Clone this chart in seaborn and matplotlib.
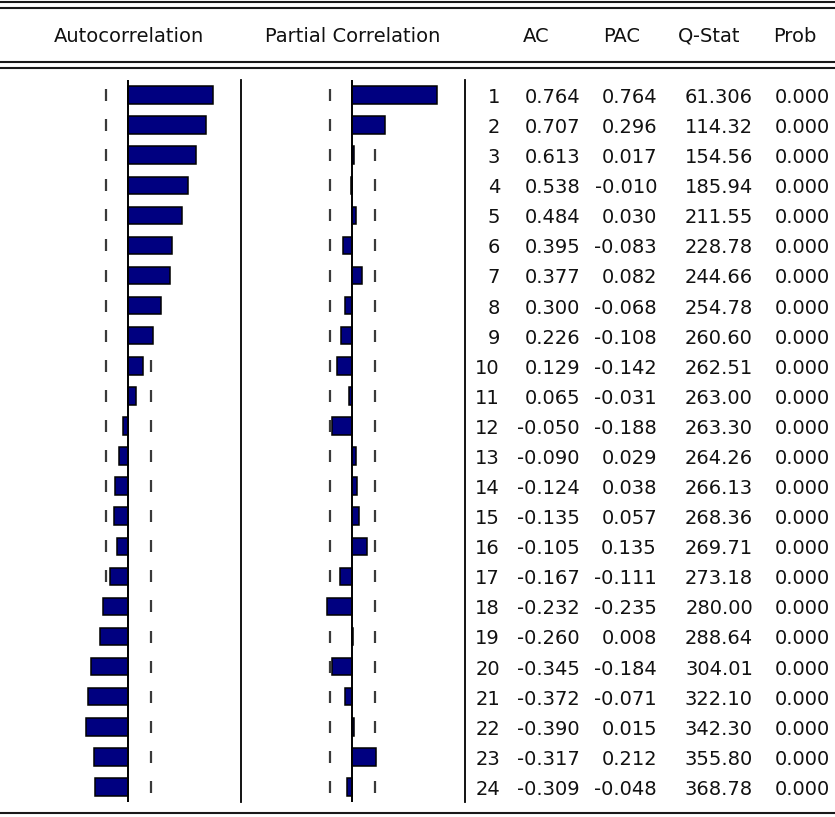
import numpy as np
import pandas as pd
import matplotlib
matplotlib.use("Agg")
import matplotlib.pyplot as plt
from matplotlib.lines import Line2D
import seaborn as sns

# ---------------- data ----------------
lags = list(range(1, 25))
ac = [0.764, 0.707, 0.613, 0.538, 0.484, 0.395, 0.377, 0.300, 0.226, 0.129,
      0.065, -0.050, -0.090, -0.124, -0.135, -0.105, -0.167, -0.232, -0.260,
      -0.345, -0.372, -0.390, -0.317, -0.309]
pac = [0.764, 0.296, 0.017, -0.010, 0.030, -0.083, 0.082, -0.068, -0.108,
       -0.142, -0.031, -0.188, 0.029, 0.038, 0.057, 0.135, -0.111, -0.235,
       0.008, -0.184, -0.071, 0.015, 0.212, -0.048]
qstat = [61.306, 114.32, 154.56, 185.94, 211.55, 228.78, 244.66, 254.78,
         260.60, 262.51, 263.00, 263.30, 264.26, 266.13, 268.36, 269.71,
         273.18, 280.00, 288.64, 304.01, 322.10, 342.30, 355.80, 368.78]
prob = [0.000] * 24
conf_band = 0.205
headers = ["Autocorrelation", "Partial Correlation", "AC", "PAC", "Q-Stat", "Prob"]

df = pd.DataFrame({"lag": [str(l) for l in lags], "ac": ac, "pac": pac})

# ---------------- figure ----------------
sns.set_style("white")
plt.rcParams["font.family"] = ["DejaVu Sans"]
W, H = 835, 817
fig = plt.figure(figsize=(W / 100, H / 100), dpi=100)
fig.patch.set_facecolor("white")

def px_axes(x0, x1, y0, y1):
    return fig.add_axes([x0 / W, 1 - y1 / H, (x1 - x0) / W, (y1 - y0) / H])

TOP, BOT = 80, 802
NAVY = "#000080"
FS = 14
TXT = "#111111"

def bar_panel(ax, col, xlim):
    sns.barplot(data=df, x=col, y="lag", orient="h", color=NAVY, saturation=1,
                width=0.58, edgecolor="black", linewidth=1.1, ax=ax, zorder=2)
    n = len(df)
    pos = np.arange(n)
    ax.vlines([-conf_band] * n, pos - 0.2, pos + 0.2, color="#3a3a3a", lw=1.6, zorder=1)
    ax.vlines([conf_band] * n, pos - 0.2, pos + 0.2, color="#3a3a3a", lw=1.6, zorder=1)
    ax.axvline(0, color="black", lw=1.4, zorder=3)
    ax.set_xlim(*xlim)
    ax.set_ylim(n - 0.5, -0.5)
    ax.set_xlabel("")
    ax.set_ylabel("")
    ax.set_xticks([])
    ax.set_yticks([])
    for s in ["top", "left", "bottom"]:
        ax.spines[s].set_visible(False)
    ax.spines["right"].set_color("black")
    ax.spines["right"].set_linewidth(1.3)
    ax.patch.set_alpha(0)

ax1 = px_axes(0, 241.5, TOP, BOT)
bar_panel(ax1, "ac", (-128.5 / 110, 113 / 110))
ax2 = px_axes(241.5, 465.5, TOP, BOT)
bar_panel(ax2, "pac", (-111 / 110, 113 / 110))

# ---------------- table ----------------
axt = px_axes(465.5, 835, TOP, BOT)
axt.set_xlim(465.5, 835)
axt.set_ylim(len(lags) - 0.5, -0.5)
axt.axis("off")

def fmt_q(q):
    return f"{q:.3f}" if q < 100 else f"{q:.2f}"

for i in range(len(lags)):
    yy = i + 0.08
    axt.text(500, yy, str(lags[i]), ha="right", va="center", fontsize=FS, color=TXT)
    axt.text(580, yy, f"{ac[i]:.3f}", ha="right", va="center", fontsize=FS, color=TXT)
    axt.text(657, yy, f"{pac[i]:.3f}", ha="right", va="center", fontsize=FS, color=TXT)
    axt.text(753, yy, fmt_q(qstat[i]), ha="right", va="center", fontsize=FS, color=TXT)
    axt.text(830, yy, f"{prob[i]:.3f}", ha="right", va="center", fontsize=FS, color=TXT)

# ---------------- headers & rules ----------------
hy = 1 - 36 / H
fig.text(128.5 / W, hy, headers[0], ha="center", va="center", fontsize=FS, color=TXT)
fig.text(352.5 / W, hy, headers[1], ha="center", va="center", fontsize=FS, color=TXT)
fig.text(523 / W, hy, headers[2], ha="left", va="center", fontsize=FS, color=TXT)
fig.text(603 / W, hy, headers[3], ha="left", va="center", fontsize=FS, color=TXT)
fig.text(678 / W, hy, headers[4], ha="left", va="center", fontsize=FS, color=TXT)
fig.text(773 / W, hy, headers[5], ha="left", va="center", fontsize=FS, color=TXT)

for ypx in [1.5, 7.5, 62, 68, 813]:
    fig.add_artist(Line2D([0, 1], [1 - ypx / H, 1 - ypx / H], color="#1a1a1a",
                          lw=1.5, transform=fig.transFigure))

fig.savefig("out.png", dpi=100, facecolor="white")
